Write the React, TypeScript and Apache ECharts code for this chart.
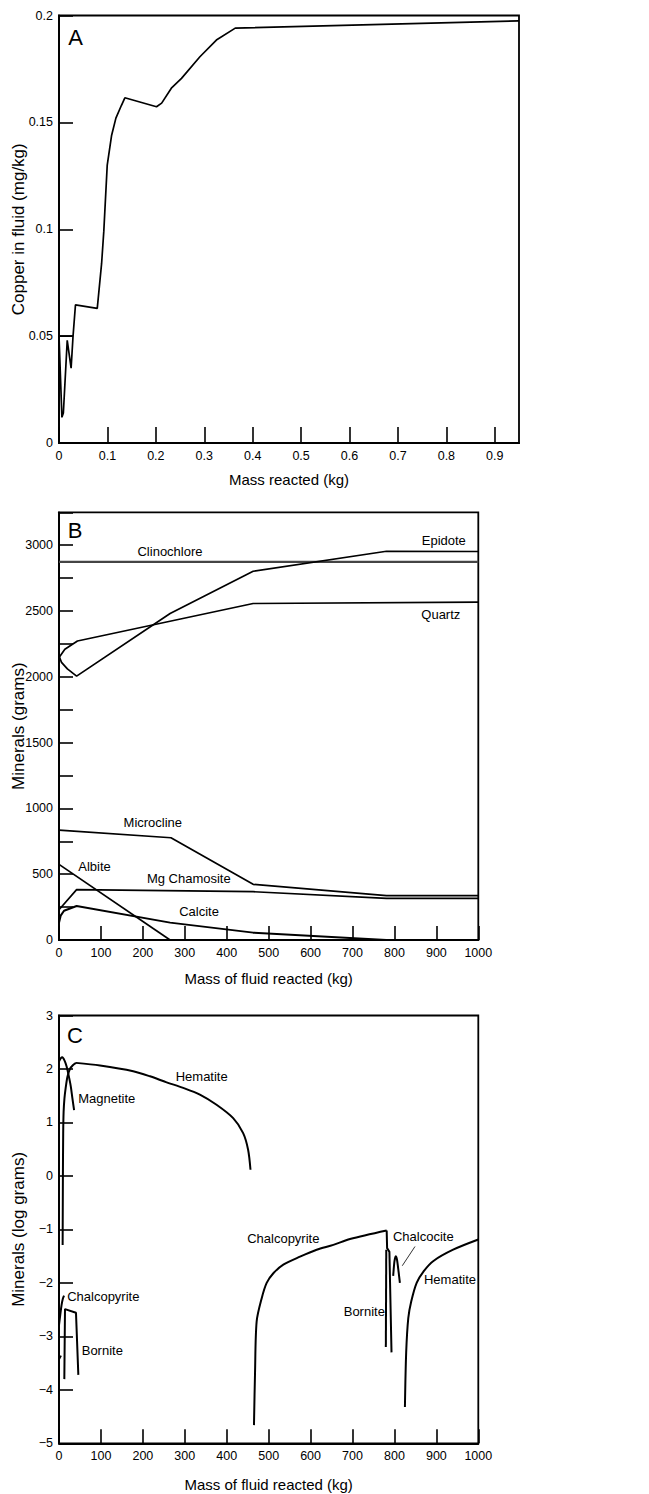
import React, { useEffect, useRef } from "react";
import * as echarts from "echarts";

// ---------- Panel A : copper in fluid ----------
const copperA: number[][] = [
  [0, 0.05], [0.006, 0.012], [0.009, 0.014], [0.017, 0.048], [0.025, 0.035], [0.029, 0.05],
  [0.034, 0.0646], [0.079, 0.063], [0.088, 0.084], [0.0925, 0.099], [0.0996, 0.13],
  [0.1087, 0.144], [0.1175, 0.152], [0.129, 0.158], [0.136, 0.1615], [0.2014, 0.1573],
  [0.212, 0.159], [0.232, 0.166], [0.253, 0.1706], [0.291, 0.1807], [0.325, 0.1885],
  [0.364, 0.1941], [0.95, 0.1975],
];
const copperStepA: number[][] = [[0, 0.05], [0.029, 0.05]];
const ticksA_y = [0, 0.05, 0.1, 0.15, 0.2];

// ---------- Panel B : minerals (grams) ----------
const clinochlore: number[][] = [[0, 2873], [1000, 2873]];
const epidote: number[][] = [[1, 2150], [6, 2110], [20, 2060], [42, 2005], [265, 2481], [463, 2802], [781, 2954], [1000, 2952]];
const quartz: number[][] = [[1, 2150], [14, 2210], [44, 2272], [463, 2557], [1000, 2567]];
const microcline: number[][] = [[0, 835], [267, 777], [463, 423], [781, 337], [1000, 337]];
const mgChamosite: number[][] = [[0, 230], [42, 383], [463, 367], [781, 316], [1000, 316]];
const calcite: number[][] = [[0, 130], [4, 185], [12, 222], [42, 258], [265, 132], [463, 56], [781, 0], [1000, 0]];
const albite: number[][] = [[0, 575], [265, 0]];

// ---------- Panel C : minerals (log grams) ----------
const hematite1Rise: number[][] = [[8.7, -1.29], [9.3, 0], [10, 0.8], [11, 1.2], [13, 1.45], [16, 1.65], [20, 1.85], [26, 2.0], [33, 2.07], [40.5, 2.114]];
const hematite1Fall: number[][] = [
  [40.5, 2.114], [97.8, 2.064], [177, 1.957], [217, 1.863], [256.7, 1.75],
  [296.4, 1.646], [336, 1.52], [375.7, 1.33], [415.4, 1.08], [439.2, 0.8], [451, 0.49], [456.7, 0.116],
];
const magnetite: number[][] = [[0, 2.14], [4, 2.2], [8, 2.22], [13, 2.16], [18, 2.05], [23, 1.88], [28, 1.68], [32, 1.45], [36, 1.23]];
const chalcopyrite1: number[][] = [[0, -2.79], [3, -2.6], [6, -2.42], [9, -2.3], [12, -2.24]];
const chalcopyrite1b: number[][] = [[1, -3.42], [5, -3.36]];
const bornite1: number[][] = [[12.7, -3.8], [14.3, -2.49], [40.5, -2.56], [46.1, -3.72]];
const chalcopyrite2: number[][] = [
  [465, -4.66], [467.5, -3.69], [471.4, -2.72], [483.3, -2.29], [495.3, -2.0], [511.2, -1.82],
  [535, -1.66], [574.8, -1.51], [614.5, -1.38], [654.3, -1.29], [694, -1.18], [781.5, -1.02],
];
const chalcopyrite2Tail: number[][] = [[781.5, -1.02], [782.5, -1.35], [788, -1.42], [793, -3.3]];
const bornite2: number[][] = [[779.5, -3.2], [780.5, -1.38]];
const chalcocite: number[][] = [[797, -1.87], [800, -1.6], [803, -1.5], [806, -1.56], [810, -1.8], [813, -2.0]];
const hematite2: number[][] = [[825, -4.32], [828, -3.3], [833, -2.66], [840, -2.35], [853, -2.0], [870, -1.78], [893, -1.59], [940, -1.38], [1000, -1.19]];
const chalcociteLeader: number[][] = [[849, -1.32], [818.7, -1.68]];

const FONT = '"Liberation Sans", Arial, Helvetica, sans-serif';

export default function App() {
  const ref = useRef<HTMLDivElement>(null);
  useEffect(() => {
    if (!ref.current) return;
    const chart = echarts.init(ref.current, undefined, { renderer: "svg" });

    const axisCommon = {
      axisLine: { show: true, onZero: false, lineStyle: { color: "#000", width: 1.8 } },
      axisTick: { show: true, inside: true, length: 14, lineStyle: { color: "#000", width: 1.6 } },
      splitLine: { show: false },
      axisLabel: { color: "#000", fontSize: 12.5, fontFamily: FONT, margin: 6, formatter: (v: number) => String(v) },
      nameTextStyle: { color: "#000", fontSize: 15, fontFamily: FONT },
      nameLocation: "middle" as const,
      nameMoveOverlap: false,
    };
    const yName = { color: "#000", fontSize: 17, fontFamily: FONT };
    const minus = (v: number) => (v < 0 ? "\u2212" + Math.abs(v) : String(v));

    const line = (data: number[][], idx: number, width = 1.6, extra: any = {}, smooth = 0) => ({
      type: "line",
      data,
      xAxisIndex: idx,
      yAxisIndex: idx,
      symbol: "none",
      silent: true,
      smooth,
      lineStyle: { color: "#000", width, ...extra },
    });

    const txt = (text: string, x: number, y: number, size = 13) => ({
      type: "text",
      x,
      y,
      silent: true,
      style: {
        text,
        fill: "#000",
        font: `${size}px ${FONT}`,
        textAlign: "center",
        textVerticalAlign: "middle",
        align: "center",
        verticalAlign: "middle",
      },
    });

    const gridCommon = {
      show: true, borderColor: "#000", borderWidth: 1.8, containLabel: false, outerBoundsMode: "none",
    };

    chart.setOption({
      animation: false,
      backgroundColor: "#fff",
      grid: [
        { ...gridCommon, left: 59, top: 15.5, width: 460, height: 427.5 },
        { ...gridCommon, left: 59, top: 512.3, width: 419.3, height: 427.7 },
        { ...gridCommon, left: 59, top: 1015.5, width: 419.3, height: 427.8 },
      ],
      xAxis: [
        {
          ...axisCommon, gridIndex: 0, type: "value", min: 0, max: 0.95, interval: 0.1,
          name: "Mass reacted (kg)", nameGap: 29, axisTick: { ...axisCommon.axisTick, length: 16 },
          axisLabel: {
            ...axisCommon.axisLabel, showMaxLabel: false,
            formatter: (v: number) => (Math.abs(v * 10 - Math.round(v * 10)) < 1e-6 ? String(Math.round(v * 10) / 10) : ""),
          },
        },
        {
          ...axisCommon, gridIndex: 1, type: "value", min: 0, max: 1000, interval: 100,
          name: "Mass of fluid reacted (kg)", nameGap: 31,
        },
        {
          ...axisCommon, gridIndex: 2, type: "value", min: 0, max: 1000, interval: 100,
          name: "Mass of fluid reacted (kg)", nameGap: 34,
        },
      ],
      yAxis: [
        {
          ...axisCommon, gridIndex: 0, type: "value", min: ticksA_y[0], max: ticksA_y[ticksA_y.length - 1], interval: 0.05,
          name: "Copper in fluid (mg/kg)", nameGap: 32, nameTextStyle: yName,
        },
        {
          ...axisCommon, gridIndex: 1, type: "value", min: 0, max: 3250, interval: 250,
          name: "Minerals (grams)", nameGap: 32, nameTextStyle: yName,
          axisLabel: { ...axisCommon.axisLabel, formatter: (v: number) => (v % 500 === 0 ? String(v) : "") },
        },
        {
          ...axisCommon, gridIndex: 2, type: "value", min: -5, max: 3, interval: 1,
          name: "Minerals (log grams)", nameGap: 32, nameTextStyle: yName,
          axisLabel: { ...axisCommon.axisLabel, formatter: minus },
        },
      ],
      series: [
        line(copperA, 0, 1.7),
        line(copperStepA, 0, 1.6),
        line(clinochlore, 1, 2.4, { color: "#444" }),
        line(epidote, 1, 1.7),
        line(quartz, 1, 1.7),
        line(microcline, 1, 1.7),
        line(mgChamosite, 1, 1.7),
        line(calcite, 1, 2),
        line(albite, 1, 1.7),
        line(hematite1Rise, 2, 2, {}, 0.25),
        line(hematite1Fall, 2, 2, {}, 0.3),
        line(magnetite, 2, 2, {}, 0.25),
        line(chalcopyrite1, 2, 2, {}, 0.25),
        line(chalcopyrite1b, 2, 1.6),
        line(bornite1, 2, 2),
        line(chalcopyrite2, 2, 2, {}, 0.3),
        line(chalcopyrite2Tail, 2, 2),
        line(bornite2, 2, 2),
        line(chalcocite, 2, 2, {}, 0.25),
        line(hematite2, 2, 2, {}, 0.3),
        line(chalcociteLeader, 2, 0.8),
      ],
      graphic: [
        txt("A", 75.5, 37, 22),
        txt("B", 75, 530, 22),
        txt("C", 75, 1035.5, 22),
        txt("Clinochlore", 170, 551),
        txt("Epidote", 443.8, 540),
        txt("Quartz", 440.8, 614),
        txt("Microcline", 152.8, 822.7),
        txt("Albite", 94.5, 866),
        txt("Mg Chamosite", 188.8, 878.3),
        txt("Calcite", 199, 911.7),
        txt("Hematite", 201.7, 1076),
        txt("Magnetite", 106.7, 1098.3),
        txt("Chalcopyrite", 283.3, 1238.3),
        txt("Chalcocite", 423.3, 1236),
        txt("Hematite", 450, 1279),
        txt("Bornite", 364.3, 1311),
        txt("Chalcopyrite", 103.3, 1296),
        txt("Bornite", 102.3, 1350),
      ],
    });
    return () => chart.dispose();
  }, []);
  return (
    <div
      ref={ref}
      style={{ position: "absolute", left: 0, top: 0, width: 649, height: 1494, background: "#fff" }}
    />
  );
}
